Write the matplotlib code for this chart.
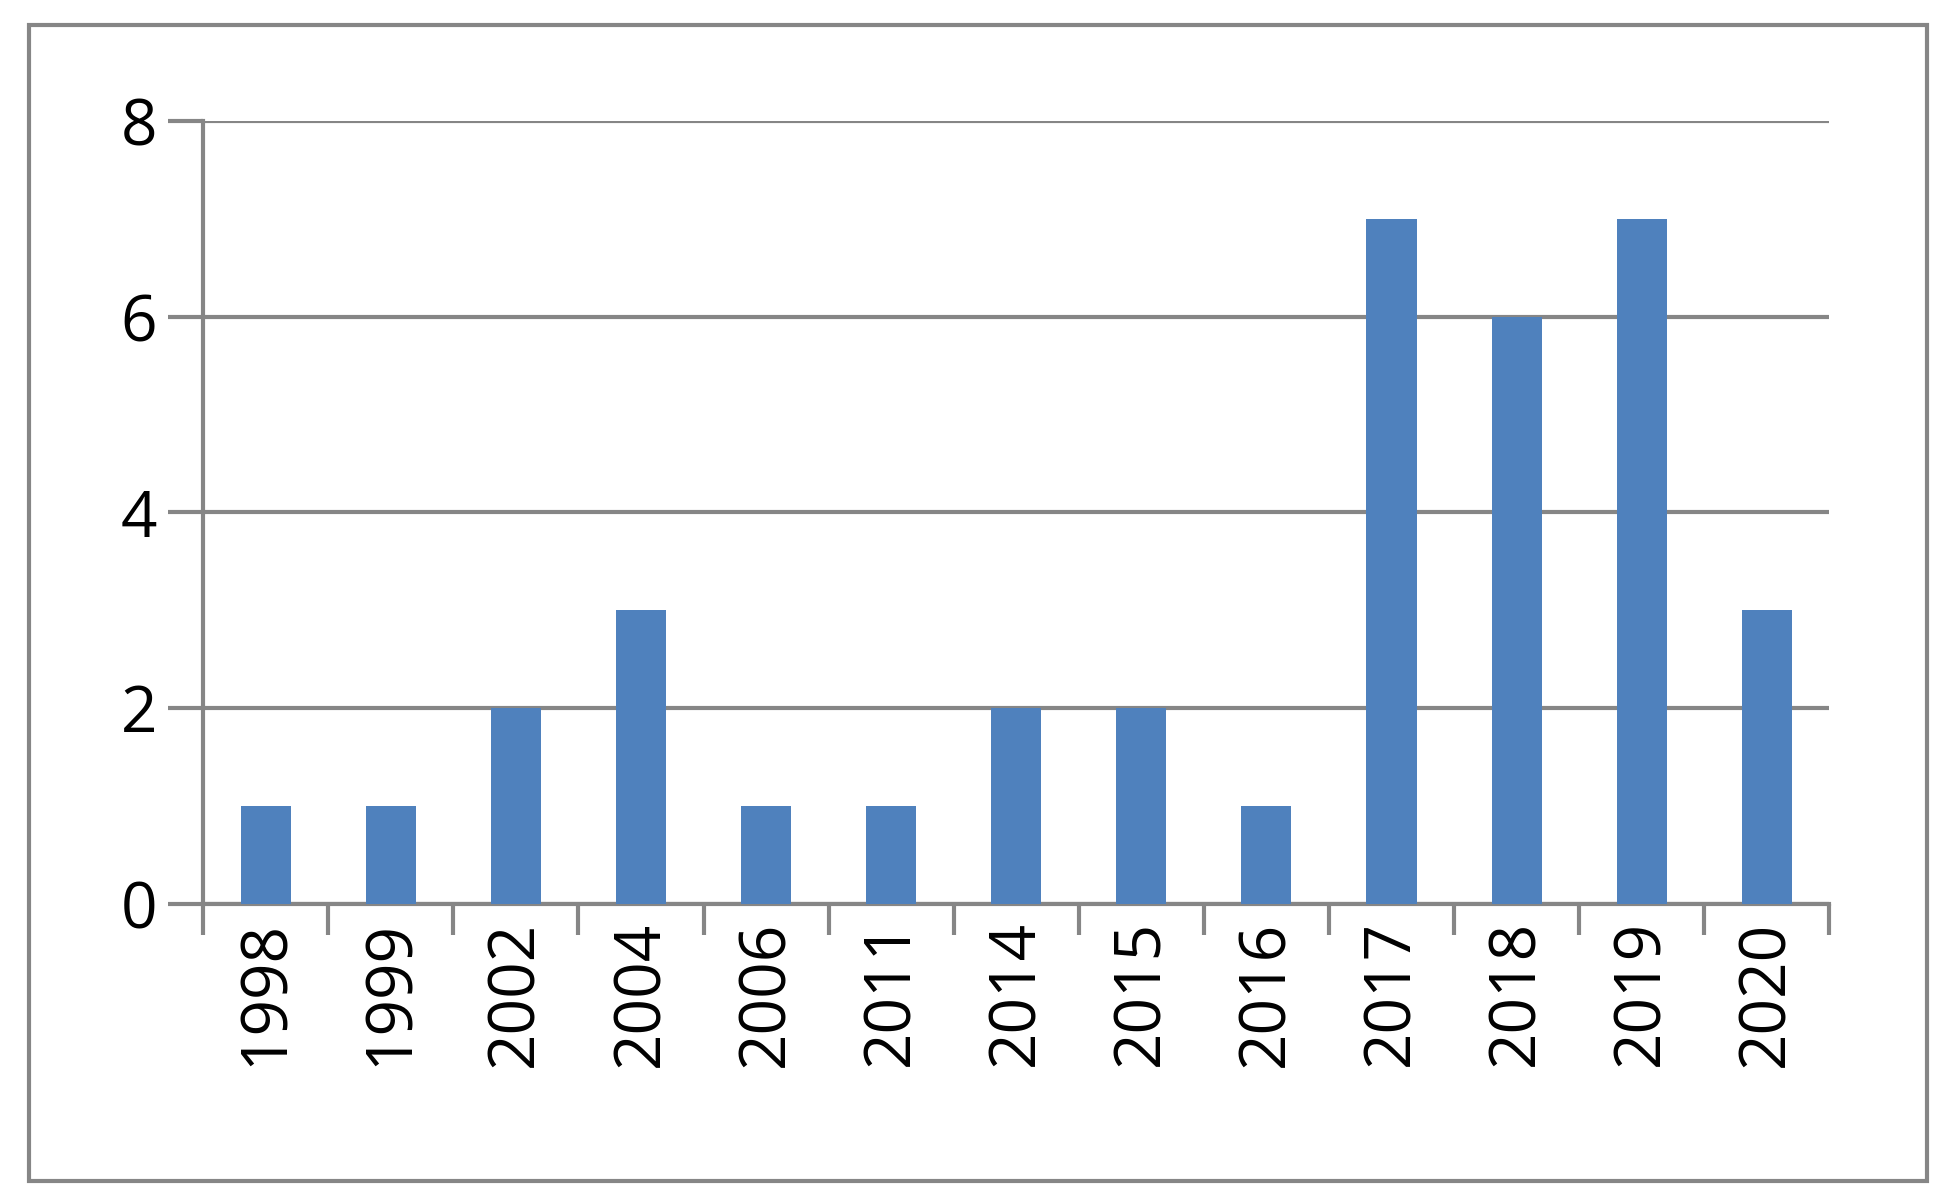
import matplotlib.pyplot as plt
from matplotlib.patches import Rectangle
import numpy as np

years = ["1998", "1999", "2002", "2004", "2006", "2011", "2014",
         "2015", "2016", "2017", "2018", "2019", "2020"]
counts = [1, 1, 2, 3, 1, 1, 2, 2, 1, 7, 6, 7, 3]

plt.rcParams['font.family'] = ['Open Sans', 'DejaVu Sans']
fig = plt.figure(figsize=(19.44, 12), dpi=100)
ax = fig.add_axes([0.1045, 0.247, 0.8365, 0.652])

# outer chart border
fig.patches.append(Rectangle((0.015, 0.016), 0.976, 0.963, transform=fig.transFigure,
                             fill=False, edgecolor="#868686", linewidth=3))

x = np.arange(len(years))
ax.bar(x, counts, width=0.4, color="#4f81bd", zorder=3)

ax.set_xlim(-0.5, len(years) - 0.5)
ax.set_ylim(0, 8)
ax.set_yticks([0, 2, 4, 6, 8])
ax.grid(axis="y", color="#868686", linewidth=3, zorder=0)

ax.set_xticks(x)
ax.set_xticklabels(years, rotation=90, fontsize=46)
ax.tick_params(axis="x", length=0, pad=12)
ax.set_xticks(np.arange(-0.5, len(years)), minor=True)
ax.tick_params(axis="x", which="minor", length=22, width=3, color="#868686")
ax.tick_params(axis="y", labelsize=46, length=25, width=3, color="#868686", pad=8)

for s in ["top", "right"]:
    ax.spines[s].set_visible(False)
for s in ["left", "bottom"]:
    ax.spines[s].set_color("#868686")
    ax.spines[s].set_linewidth(3)

fig.savefig("out.png", dpi=100)
